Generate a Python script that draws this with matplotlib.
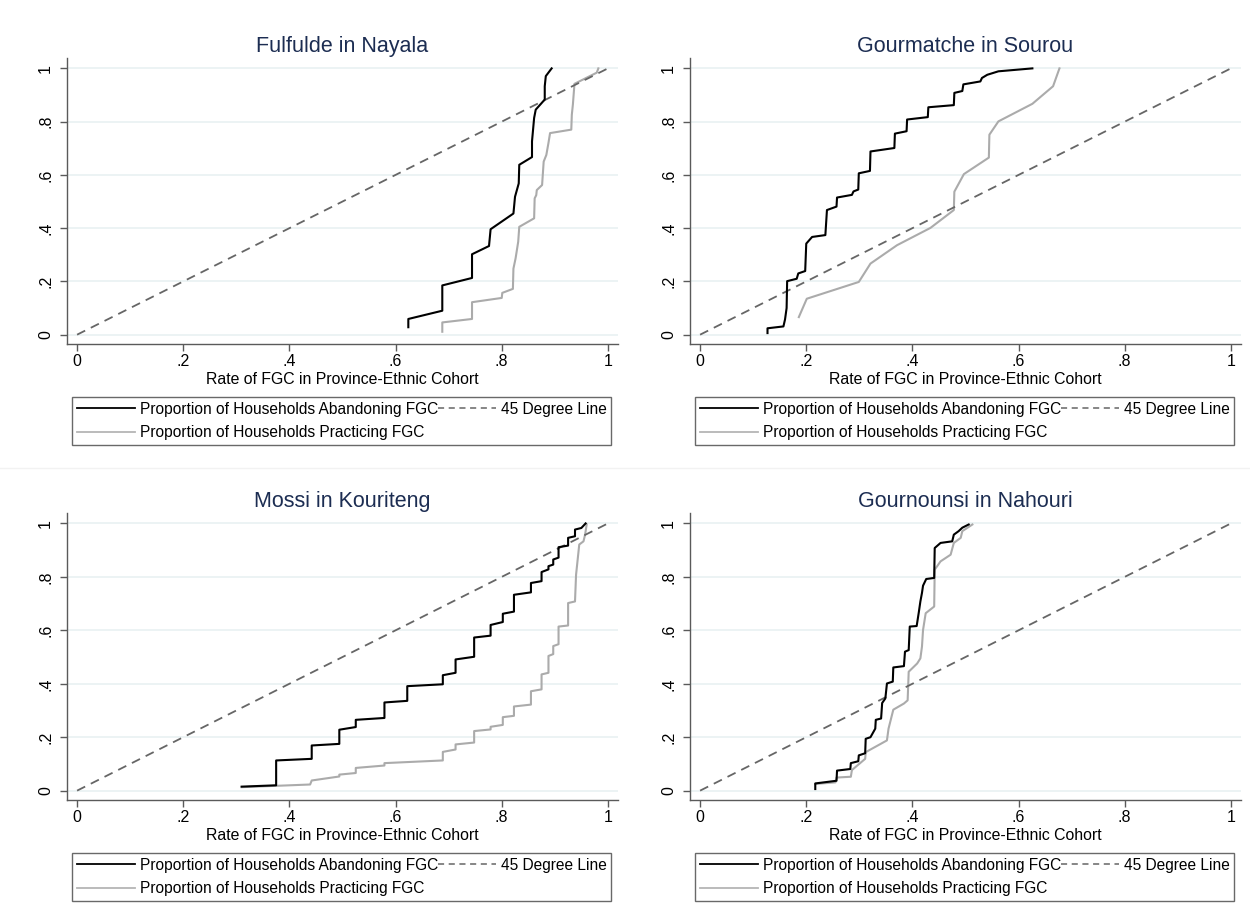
import matplotlib
matplotlib.use("Agg")
import matplotlib.pyplot as plt
from matplotlib.lines import Line2D

plt.rcParams['font.family'] = ['Liberation Sans', 'DejaVu Sans']

titles = ["Fulfulde in Nayala", "Gourmatche in Sourou", "Mossi in Kouriteng", "Gournounsi in Nahouri"]

# Panel 1: Fulfulde in Nayala
p1_aband_x = [0.624, 0.624, 0.688, 0.688, 0.744, 0.744, 0.776, 0.779, 0.822, 0.825, 0.832, 0.833, 0.857, 0.857, 0.861, 0.864, 0.881, 0.881, 0.883, 0.894]
p1_aband_y = [0.028, 0.059, 0.090, 0.185, 0.213, 0.302, 0.333, 0.396, 0.455, 0.518, 0.568, 0.638, 0.667, 0.726, 0.814, 0.845, 0.883, 0.933, 0.971, 1.000]
p1_pract_x = [0.688, 0.688, 0.744, 0.744, 0.800, 0.801, 0.821, 0.822, 0.826, 0.828, 0.831, 0.833, 0.861, 0.862, 0.865, 0.866, 0.876, 0.879, 0.884, 0.888, 0.891, 0.931, 0.932, 0.934, 0.937, 0.979, 0.982]
p1_pract_y = [0.011, 0.046, 0.059, 0.122, 0.138, 0.157, 0.172, 0.248, 0.286, 0.311, 0.349, 0.405, 0.437, 0.512, 0.524, 0.543, 0.562, 0.650, 0.675, 0.720, 0.757, 0.770, 0.826, 0.864, 0.942, 0.984, 1.000]

# Panel 2: Gourmatche in Sourou
p2_aband_x = [0.127, 0.127, 0.157, 0.160, 0.163, 0.164, 0.182, 0.185, 0.198, 0.200, 0.211, 0.236, 0.239, 0.257, 0.258, 0.286, 0.289, 0.298, 0.299, 0.320, 0.321, 0.366, 0.367, 0.389, 0.390, 0.429, 0.430, 0.478, 0.479, 0.494, 0.496, 0.528, 0.531, 0.541, 0.562, 0.626]
p2_aband_y = [0.006, 0.024, 0.031, 0.057, 0.100, 0.201, 0.210, 0.230, 0.239, 0.342, 0.367, 0.374, 0.468, 0.481, 0.515, 0.525, 0.538, 0.545, 0.606, 0.615, 0.688, 0.701, 0.755, 0.764, 0.808, 0.817, 0.854, 0.862, 0.908, 0.915, 0.940, 0.951, 0.964, 0.976, 0.989, 1.000]
p2_pract_x = [0.186, 0.201, 0.299, 0.321, 0.371, 0.434, 0.478, 0.479, 0.497, 0.544, 0.545, 0.562, 0.626, 0.665, 0.677]
p2_pract_y = [0.066, 0.135, 0.198, 0.267, 0.336, 0.401, 0.468, 0.537, 0.603, 0.665, 0.751, 0.801, 0.867, 0.933, 1.000]

# Panel 3: Mossi in Kouriteng
p3_aband_x = [0.310, 0.375, 0.375, 0.442, 0.442, 0.494, 0.494, 0.525, 0.525, 0.579, 0.579, 0.622, 0.622, 0.689, 0.689, 0.713, 0.713, 0.748, 0.748, 0.779, 0.779, 0.802, 0.802, 0.823, 0.823, 0.855, 0.855, 0.875, 0.875, 0.888, 0.888, 0.897, 0.897, 0.907, 0.907, 0.925, 0.925, 0.938, 0.938, 0.950, 0.958]
p3_aband_y = [0.015, 0.020, 0.113, 0.119, 0.169, 0.175, 0.228, 0.238, 0.265, 0.272, 0.330, 0.336, 0.391, 0.398, 0.432, 0.441, 0.491, 0.501, 0.573, 0.580, 0.620, 0.631, 0.662, 0.670, 0.733, 0.742, 0.777, 0.784, 0.818, 0.828, 0.840, 0.846, 0.865, 0.872, 0.911, 0.917, 0.946, 0.952, 0.977, 0.983, 1.000]
p3_pract_x = [0.310, 0.439, 0.442, 0.494, 0.494, 0.525, 0.525, 0.579, 0.579, 0.689, 0.689, 0.713, 0.713, 0.748, 0.748, 0.779, 0.779, 0.802, 0.802, 0.823, 0.823, 0.855, 0.855, 0.875, 0.875, 0.888, 0.888, 0.897, 0.897, 0.907, 0.907, 0.925, 0.925, 0.938, 0.940, 0.946, 0.954, 0.957, 0.960]
p3_pract_y = [0.013, 0.023, 0.038, 0.053, 0.060, 0.066, 0.085, 0.094, 0.103, 0.113, 0.145, 0.154, 0.173, 0.180, 0.223, 0.229, 0.239, 0.246, 0.275, 0.280, 0.315, 0.322, 0.372, 0.379, 0.435, 0.441, 0.504, 0.511, 0.541, 0.548, 0.614, 0.618, 0.702, 0.708, 0.808, 0.921, 0.933, 0.958, 0.996]

# Panel 4: Gournounsi in Nahouri
p4_aband_x = [0.217, 0.217, 0.257, 0.258, 0.283, 0.284, 0.298, 0.299, 0.311, 0.312, 0.321, 0.330, 0.331, 0.341, 0.343, 0.349, 0.352, 0.363, 0.364, 0.384, 0.386, 0.393, 0.395, 0.408, 0.412, 0.415, 0.418, 0.420, 0.426, 0.441, 0.442, 0.453, 0.475, 0.478, 0.487, 0.494, 0.506]
p4_aband_y = [0.006, 0.027, 0.037, 0.075, 0.081, 0.103, 0.110, 0.132, 0.140, 0.194, 0.200, 0.232, 0.265, 0.270, 0.328, 0.345, 0.401, 0.408, 0.461, 0.466, 0.520, 0.526, 0.614, 0.616, 0.667, 0.708, 0.740, 0.767, 0.792, 0.796, 0.908, 0.927, 0.933, 0.958, 0.971, 0.984, 0.996]
p4_pract_x = [0.217, 0.255, 0.257, 0.284, 0.286, 0.311, 0.312, 0.352, 0.355, 0.364, 0.384, 0.391, 0.393, 0.409, 0.415, 0.418, 0.420, 0.425, 0.441, 0.442, 0.453, 0.472, 0.478, 0.491, 0.494, 0.513]
p4_pract_y = [0.025, 0.031, 0.049, 0.052, 0.077, 0.119, 0.144, 0.188, 0.232, 0.303, 0.326, 0.338, 0.445, 0.476, 0.495, 0.539, 0.601, 0.664, 0.689, 0.827, 0.858, 0.883, 0.927, 0.946, 0.971, 0.996]

diag = [0, 1]
xticks = [0, 0.2, 0.4, 0.6, 0.8, 1]
xticklabels = ["0", ".2", ".4", ".6", ".8", "1"]
yticks = [0, 0.2, 0.4, 0.6, 0.8, 1]
yticklabels = ["0", ".2", ".4", ".6", ".8", "1"]

aband_label = "Proportion of Households Abandoning FGC"
pract_label = "Proportion of Households Practicing FGC"
diag_label = "45 Degree Line"
xlabel = "Rate of FGC in Province-Ethnic Cohort"

panels = [
    (p1_aband_x, p1_aband_y, p1_pract_x, p1_pract_y),
    (p2_aband_x, p2_aband_y, p2_pract_x, p2_pract_y),
    (p3_aband_x, p3_aband_y, p3_pract_x, p3_pract_y),
    (p4_aband_x, p4_aband_y, p4_pract_x, p4_pract_y),
]

W, H = 1250, 917
fig = plt.figure(figsize=(W / 100, H / 100), dpi=100)
fig.patch.set_facecolor("white")

# axes boxes in pixels: (left, top, right, bottom)
boxes = [(67, 58, 618, 344), (690, 58, 1241, 344), (67, 513, 618, 800), (690, 513, 1241, 800)]
legend_tl = [(72, 397), (695, 397), (72, 853), (695, 853)]
title_color = "#1c2d52"
spine_color = "#5a5a5a"

for i, (box, (ax_x, ax_y, pr_x, pr_y)) in enumerate(zip(boxes, panels)):
    l, t, r, b = box
    ax = fig.add_axes([l / W, 1 - b / H, (r - l) / W, (b - t) / H])
    ax.set_xlim(-0.019, 1.019)
    ax.set_ylim(-0.035, 1.039)
    ax.plot(ax_x, ax_y, color="black", lw=1.5, label=aband_label, zorder=3)
    ax.plot(pr_x, pr_y, color="#ababab", lw=1.5, label=pract_label, zorder=2)
    ax.plot(diag, diag, color="#666666", lw=1.3, ls=(0, (5, 3.5)), label=diag_label, zorder=2)
    ax.set_xticks(xticks)
    ax.set_xticklabels(xticklabels)
    ax.set_yticks(yticks)
    ax.set_yticklabels(yticklabels, rotation=90, va="center")
    ax.grid(axis="y", color="#e9f1f2", lw=1.2, zorder=0)
    ax.set_axisbelow(True)
    for s in ["top", "right"]:
        ax.spines[s].set_visible(False)
    for s in ["left", "bottom"]:
        ax.spines[s].set_color(spine_color)
        ax.spines[s].set_linewidth(1.0)
    ax.tick_params(axis="both", colors=spine_color, labelcolor="black", length=5, width=1.0, labelsize=11.5)
    ax.tick_params(axis="y", pad=5)
    ax.tick_params(axis="x", pad=2)
    ax.set_xlabel(xlabel, fontsize=11.4, labelpad=2)
    ax.set_title(titles[i], fontsize=15.5, color=title_color, pad=4)
    h1 = Line2D([], [], color="black", lw=1.3)
    h2 = Line2D([], [], color="#b5b5b5", lw=1.3)
    h3 = Line2D([], [], color="#666666", lw=1.1, ls=(0, (4, 3)))
    lx, ly = legend_tl[i]
    leg = ax.legend([h1, h2, h3], [aband_label, pract_label, diag_label], ncol=2,
                    loc="upper left", bbox_to_anchor=(lx / W, 1 - ly / H),
                    bbox_transform=fig.transFigure, fontsize=11.2, frameon=True,
                    fancybox=False, edgecolor="#444444", handlelength=3.75,
                    handletextpad=0.3, columnspacing=0.0, labelspacing=0.55,
                    borderpad=0.3, borderaxespad=0)
    leg.get_frame().set_linewidth(1.0)

fig.add_artist(Line2D([0, 1], [1 - 468 / H, 1 - 468 / H], transform=fig.transFigure, color="#f2f2f2", lw=1))

fig.savefig("out.png", dpi=100)
